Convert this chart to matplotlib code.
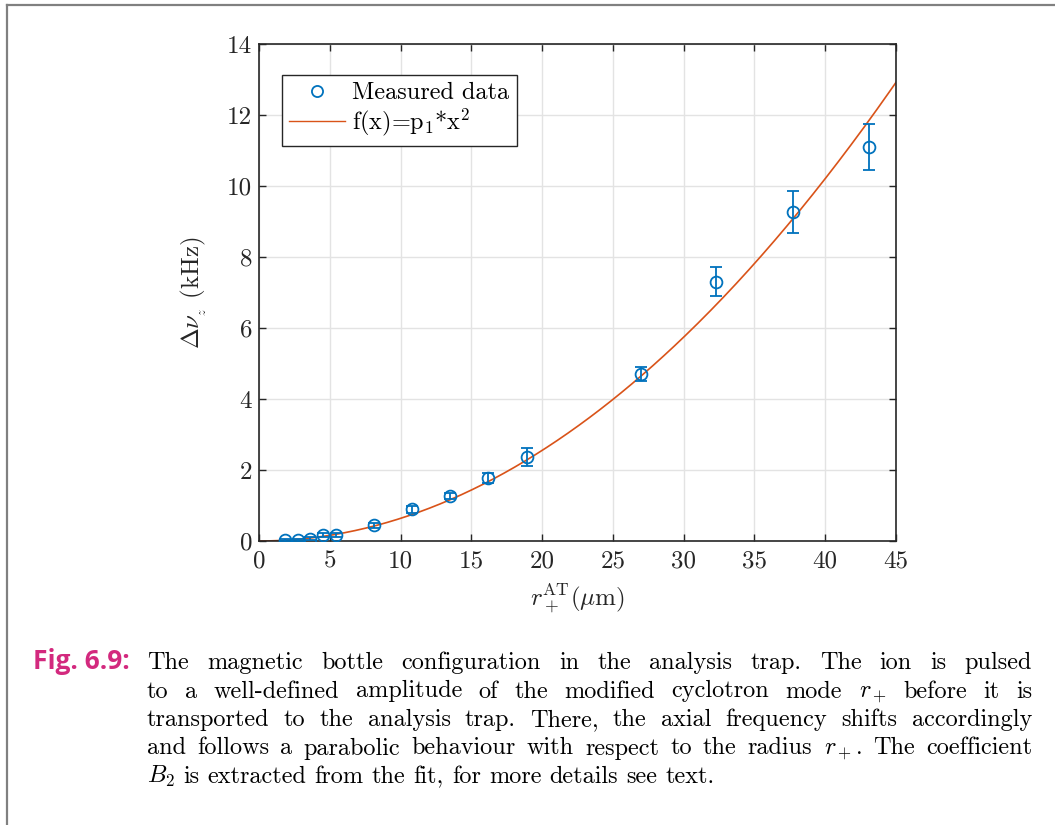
import matplotlib
matplotlib.use("Agg")
import matplotlib.pyplot as plt
from matplotlib.lines import Line2D
import numpy as np

# Measured axial frequency shift vs. cyclotron radius in the analysis trap
radius_um = [1.85, 2.75, 3.6, 4.5, 5.45, 8.1, 10.8, 13.5, 16.2, 18.9, 27.0, 32.3, 37.7, 43.1]
shift_khz = [0.03, 0.03, 0.07, 0.17, 0.16, 0.45, 0.90, 1.27, 1.77, 2.37, 4.70, 7.30, 9.27, 11.10]
shift_err = [0.03, 0.03, 0.04, 0.06, 0.06, 0.07, 0.10, 0.09, 0.14, 0.25, 0.20, 0.41, 0.58, 0.65]

# Quadratic fit coefficient f(x) = p1 * x^2
p1 = 0.00638

x_ticks = [0, 5, 10, 15, 20, 25, 30, 35, 40, 45]
y_ticks = [0, 2, 4, 6, 8, 10, 12, 14]

caption_label = "Fig. 6.9:"
caption_lines = [
    "The magnetic bottle configuration in the analysis trap.  The ion is pulsed",
    "to a well-defined amplitude of the modified cyclotron mode $r_+$ before it is",
    "transported to the analysis trap. There, the axial frequency shifts accordingly",
    "and follows a parabolic behaviour with respect to the radius $r_+$. The coefficient",
    "$B_2$ is extracted from the fit, for more details see text.",
]

blue = "#0072BD"
orange = "#D95319"
ink = "#262626"

plt.rcParams["font.family"] = ["cmr10"]
plt.rcParams["mathtext.fontset"] = "cm"
plt.rcParams["axes.unicode_minus"] = False
plt.rcParams["axes.formatter.use_mathtext"] = True

W, H = 1055, 825
fig = plt.figure(figsize=(W / 100, H / 100), dpi=100)

# page frame (top and left rule)
fig.add_artist(Line2D([7 / W, 1.0], [1 - 5 / H, 1 - 5 / H], color="#808080", lw=1.6))
fig.add_artist(Line2D([7 / W, 7 / W], [0.0, 1 - 5 / H], color="#808080", lw=1.6))

ax = fig.add_axes([259 / W, 1 - 541 / H, (896 - 259) / W, (541 - 44) / H])

xf = np.linspace(0, 45, 300)
ax.errorbar(radius_um, shift_khz, yerr=shift_err, fmt="o", color=blue, mfc="none",
            ms=8.5, mew=1.3, elinewidth=1.3, capsize=4, capthick=1.3, zorder=3)
ax.plot(xf, p1 * xf ** 2, color=orange, lw=1.2, zorder=2)

ax.set_xlim(0, 45)
ax.set_ylim(0, 14)
ax.set_xticks(x_ticks)
ax.set_yticks(y_ticks)
ax.set_xticklabels([str(t) for t in x_ticks])
ax.set_yticklabels([str(t) for t in y_ticks])
ax.grid(True, color="#e3e3e3", lw=1.0)
ax.set_axisbelow(True)
ax.tick_params(direction="in", length=5, width=1.0, top=True, right=True,
               labelsize=18, colors=ink)
ax.tick_params(axis="x", pad=7)
ax.tick_params(axis="y", pad=5)
for s in ax.spines.values():
    s.set_color(ink)
    s.set_linewidth(1.2)

ax.set_xlabel(r"$r_+^{\mathrm{AT}}(\mu\mathrm{m})$", fontsize=18, color=ink, labelpad=6)
ax.set_ylabel(r"$\Delta\nu_{_z}$ (kHz)", fontsize=18, color=ink, labelpad=13)

handles = [
    Line2D([], [], ls="none", marker="o", mfc="none", mec=blue, ms=8, mew=1.3),
    Line2D([], [], color=orange, lw=1.0),
]
leg = ax.legend(handles, ["Measured data", r"f(x)=p$_1$*x$^2$"], loc="upper left",
                bbox_to_anchor=((282 - 259) / 637, (541 - 75) / 497),
                fontsize=17.5, frameon=True, fancybox=False, edgecolor=ink,
                framealpha=1, borderpad=0.3, handlelength=2.3, handletextpad=0.3,
                labelspacing=0.1, borderaxespad=0)
leg.get_frame().set_linewidth(1.0)

# Caption with justified lines
renderer = fig.canvas.get_renderer()
left_px, right_px = 147, 1032
baselines = [669, 697.5, 726, 754.5, 783]
cap_family = "cmr10"


def measure(s, fs):
    t = fig.text(0, 0, s, fontsize=fs, fontfamily=cap_family)
    w = t.get_window_extent(renderer).width
    t.remove()
    return w


# size the caption so the densest line fills the text width
probe = 10.0
longest = max(measure(l, probe) for l in caption_lines[:-1])
cap_fs = min(17.5, probe * (right_px - left_px) / longest * 0.985)

fig.text(33 / W, 1 - 669 / H, caption_label, ha="left", va="baseline",
         fontsize=19, fontfamily="Open Sans", fontweight="bold", color="#D3297E")

nat_space = measure("a a", cap_fs) - measure("aa", cap_fs)
for i, line in enumerate(caption_lines):
    words = line.split()
    arts = [fig.text(0, 1 - baselines[i] / H, w, ha="left", va="baseline",
                     fontsize=cap_fs, fontfamily=cap_family, color="black")
            for w in words]
    widths = [a.get_window_extent(renderer).width for a in arts]
    if i == len(caption_lines) - 1:
        gap = nat_space
    else:
        gap = (right_px - left_px - sum(widths)) / (len(words) - 1)
    x = left_px
    for a, w in zip(arts, widths):
        a.set_x(x / W)
        x += w + gap

fig.savefig("out.png", dpi=100)
